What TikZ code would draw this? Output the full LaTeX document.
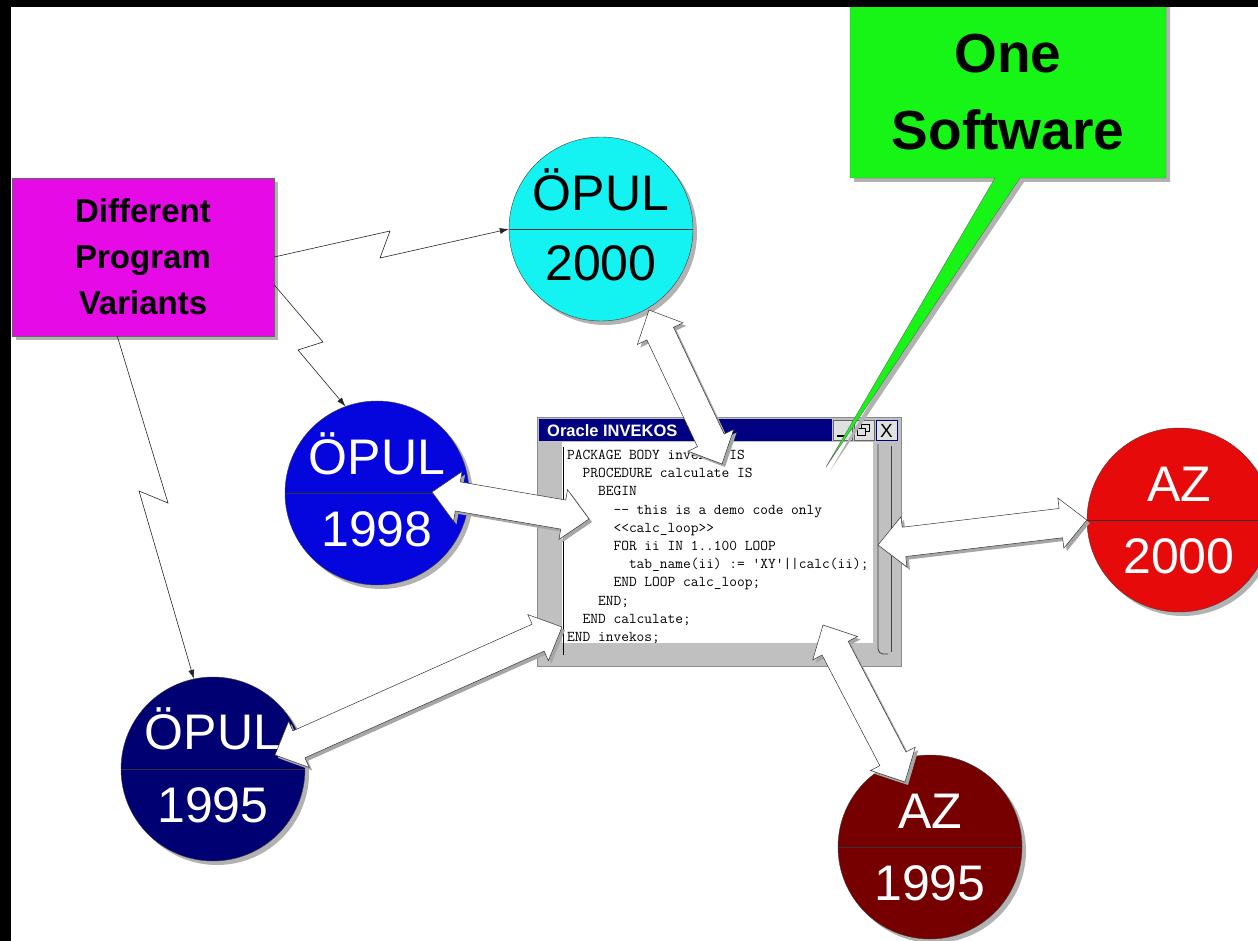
\documentclass[tikz,border=0pt]{standalone}
\usepackage{fontspec}
\setmainfont{Liberation Sans}
\usetikzlibrary{calc,arrows.meta,shapes.arrows,shadows}
\definecolor{varpink}{RGB}{230,10,230}
\definecolor{onegreen}{RGB}{22,245,22}
\definecolor{opcyan}{RGB}{20,242,242}
\definecolor{opblue}{RGB}{5,5,222}
\definecolor{opnavy}{RGB}{0,0,115}
\definecolor{azred}{RGB}{230,10,10}
\definecolor{azdark}{RGB}{118,0,0}
\definecolor{titleblue}{RGB}{0,0,128}
\definecolor{wingray}{RGB}{192,192,192}
\tikzset{
	boxshadow/.style={drop shadow={shadow xshift=4pt, shadow yshift=-4pt, fill=black!30, opacity=1}},
	disk/.style={circle, draw=black!75, line width=0.4pt, minimum size=184pt, inner sep=0pt, boxshadow},
	disktext/.style={anchor=base, inner sep=0pt, font=\fontsize{50}{50}\selectfont},
	zig/.style={draw=black!85, line width=0.6pt, -{Latex[length=9pt,width=6pt]}},
	fat/.style={double arrow, draw=black!80, line width=0.5pt, fill=white, inner xsep=0pt, inner ysep=14.5pt, double arrow head extend=10.5pt, double arrow tip angle=88, drop shadow={shadow xshift=3pt, shadow yshift=-3pt, fill=black!35, opacity=1}}
}
\def\fatlink(#1)(#2)(#3){\path let \p1=(#2), \p2=(#3), \n1={atan2(\y2-\y1,\x2-\x1)}, \n2={veclen(\x2-\x1,\y2-\y1)} in node[fat, minimum height=\n2, rotate=\n1] (#1) at ($(#2)!0.5!(#3)$) {};}

\begin{document}
\begin{tikzpicture}[x=1pt, y=-1pt]
	%%%%% START %%%%%
	\useasboundingbox (0,0) rectangle (1258,941);
	\fill[white] (0,0) rectangle (1258,941);
	
	% variants box
	\node[fill=varpink, draw=black!60, line width=0.4pt, minimum width=262pt, minimum height=158pt, inner sep=0pt, align=center, boxshadow, font=\bfseries\fontsize{33}{46}\selectfont] (variants) at (143,257) {Different\\Program\\Variants};
	
	% program variants
	\node[disk, fill=opcyan] (p2000) at (601,229) {};
	\draw[black!80] (p2000.west) -- (p2000.east);
	\node[disktext] (p2000top) at ([yshift=18pt]p2000.center) {ÖPUL};
	\node[disktext] (p2000bot) at ([yshift=-52pt]p2000.center) {2000};
	
	\node[disk, fill=opblue] (p1998) at (377,493) {};
	\draw[black!80] (p1998.west) -- (p1998.east);
	\node[disktext, text=white] (p1998top) at ([yshift=19pt]p1998.center) {ÖPUL};
	\node[disktext, text=white] (p1998bot) at ([yshift=-53pt]p1998.center) {1998};
	
	\node[disk, fill=opnavy] (p1995) at (213,769) {};
	\draw[black!80] (p1995.west) -- (p1995.east);
	\node[disktext, text=white] (p1995top) at ([yshift=20pt]p1995.center) {ÖPUL};
	\node[disktext, text=white] (p1995bot) at ([yshift=-53pt]p1995.center) {1995};
	
	\node[disk, fill=azred] (az2000) at (1179,520) {};
	\draw[black!80] (az2000.west) -- (az2000.east);
	\node[disktext, text=white] (az2000top) at ([yshift=19pt]az2000.center) {AZ};
	\node[disktext, text=white] (az2000bot) at ([yshift=-53pt]az2000.center) {2000};
	
	\node[disk, fill=azdark] (az1995) at (930,847) {};
	\draw[black!80] (az1995.west) -- (az1995.east);
	\node[disktext, text=white] (az1995top) at ([yshift=19pt]az1995.center) {AZ};
	\node[disktext, text=white] (az1995bot) at ([yshift=-53pt]az1995.center) {1995};
	
	% window
	\node[draw=black!45, fill=wingray, minimum width=364pt, minimum height=249pt, inner sep=0pt] (win) at (719,541.5) {};
	\fill[titleblue] (539,419) rectangle (832,441);
	\node[anchor=base west, inner sep=0pt, text=white, font=\bfseries\fontsize{16.5}{16.5}\selectfont] (wintitle) at (547,436) {Oracle INVEKOS};
	\draw[fill=black!12, draw=black!60] (833,420) rectangle (852,440);
	\draw[fill=black!12, draw=black!60] (854,420) rectangle (874,440);
	\draw[fill=black!12, draw=titleblue] (876,420) rectangle (897,440);
	\draw[line width=1.5pt] (837,436) -- (847,436);
	\draw (861,424) rectangle (869,431);
	\draw[fill=black!12] (857,428) rectangle (865,435);
	\node[inner sep=0pt, font=\fontsize{19}{19}\selectfont] (winclose) at (886.5,430.5) {X};
	\fill[white] (562,442) rectangle (873,643);
	\draw[line width=1pt] (563,447) -- (563,655);
	\draw[black!75, line width=0.8pt, rounded corners=5pt] (878,444) -- (878,654) -- (888,654);
	\draw[black!75, line width=0.8pt] (891,446) -- (891,652);
	
	\node[anchor=north west, align=left, inner sep=0pt, font=\ttfamily\fontsize{15}{18.2}\selectfont] (code) at (567,450) {PACKAGE BODY invekos IS\\
		\phantom{xx}PROCEDURE calculate IS\\
		\phantom{xxxx}BEGIN\\
		\phantom{xxxxxx}-{}- this is a demo code only\\
		\phantom{xxxxxx}<<calc\_loop>>\\
		\phantom{xxxxxx}FOR ii IN 1..100 LOOP\\
		\phantom{xxxxxxxx}tab\_name(ii) := 'XY'||calc(ii);\\
		\phantom{xxxxxx}END LOOP calc\_loop;\\
		\phantom{xxxx}END;\\
		\phantom{xx}END calculate;\\
		END invekos;};
	
	% one software callout
	\coordinate (tip) at (826,467);
	\filldraw[fill=onegreen, draw=black!60, line width=0.4pt, boxshadow] (850,2) -- (1166,2) -- (1166,178) -- (1020,178) -- (tip) -- (995,178) -- (850,178) -- cycle;
	\node[align=center, inner sep=0pt, font=\bfseries\fontsize{55}{77}\selectfont] (one) at (1008,92) {One\\Software};
	
	% links window <-> variants
	\coordinate (a1) at (649,310); \coordinate (a2) at (722,464);
	\coordinate (b1) at (432,492); \coordinate (b2) at (589,519);
	\coordinate (c1) at (275,755); \coordinate (c2) at (562,627);
	\coordinate (d1) at (878,545);
	\coordinate (e1) at (823,625); \coordinate (e2) at (905,782);
	\fatlink(linkA)(a1)(a2)
	\fatlink(linkB)(b1)(b2)
	\fatlink(linkC)(c1)(c2)
	\fatlink(linkD)(d1)(az2000.west)
	\fatlink(linkE)(e1)(e2)
	
	% variants box -> variants
	\draw[zig] (variants.east) -- (390,231) -- (380,258) -- (p2000.west);
	\draw[zig] (variants.-12) -- (323,342) -- (298,350) -- (p1998.110);
	\draw[zig] (variants.-108) -- (168,503) -- (139,491) -- (p1995.102);
	
	% frame
	\fill[black] (0,0) rectangle (1258,7);
	\fill[black] (0,0) rectangle (11,941);
	%%%%% END %%%%%
\end{tikzpicture}
\end{document}
